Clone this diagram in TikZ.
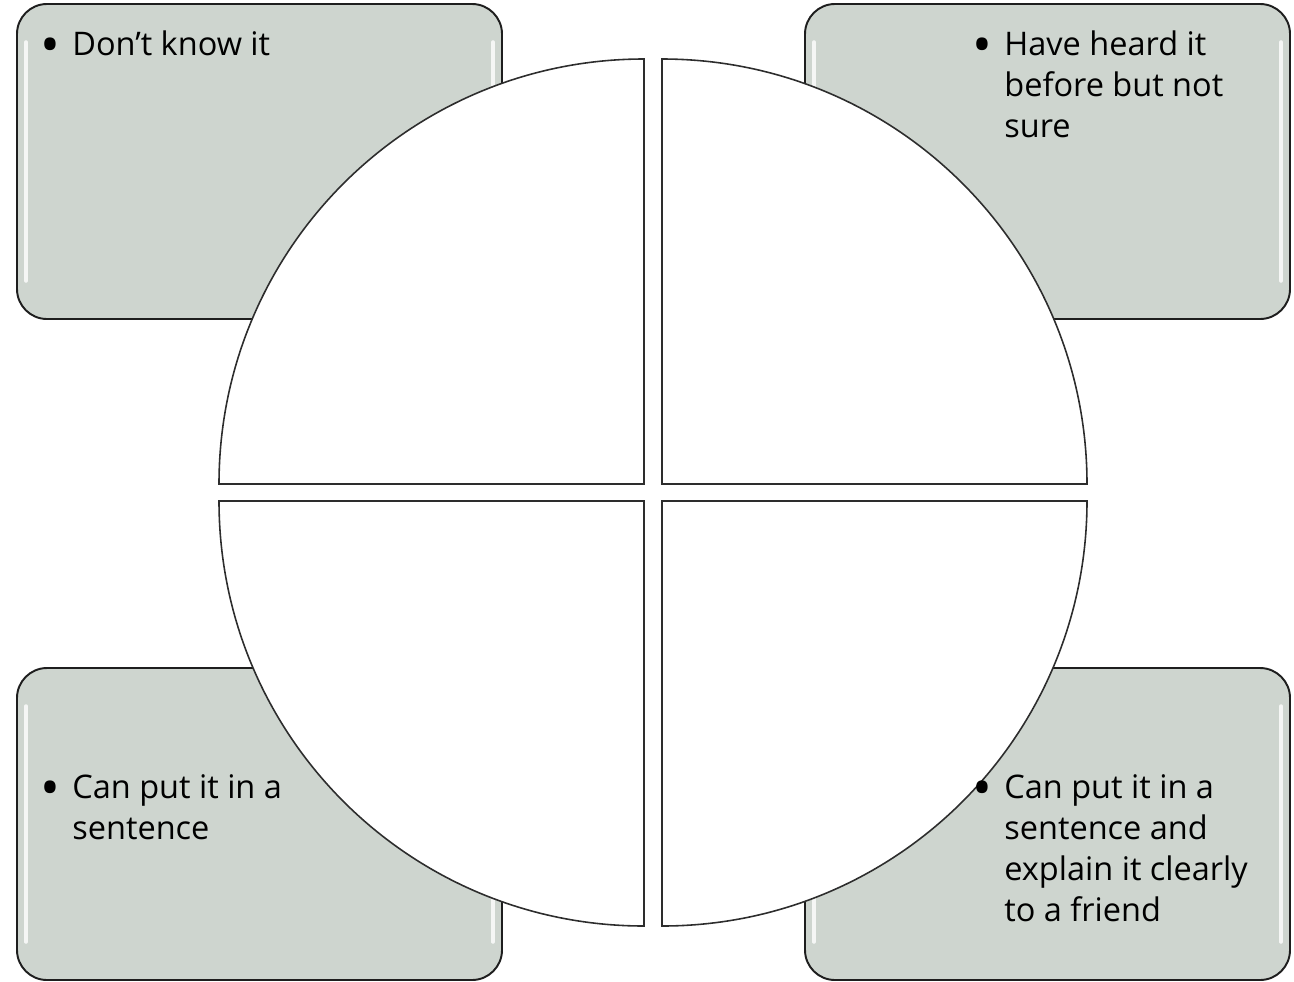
\documentclass[tikz,border=0pt]{standalone}
\usepackage{fontspec}
\setmainfont{Open Sans}
\usetikzlibrary{positioning}
\definecolor{PanelGrey}{RGB}{206,213,207}
\definecolor{EdgeDark}{RGB}{30,30,30}
\definecolor{QuadLine}{RGB}{45,45,45}
\tikzset{
  panel/.style={draw=EdgeDark,line width=1.1pt,fill=PanelGrey,rounded corners=0.6cm},
  shine/.style={draw=white,line width=2pt,line cap=round,opacity=.8},
  quad/.style={draw=QuadLine,line width=0.9pt,fill=white},
  item/.style={anchor=base west,align=left,inner sep=0pt,text=black,font=\fontsize{18.5}{23.3}\selectfont},
}
\newcommand{\bul}{\llap{\raisebox{-0.16cm}{\fontsize{30}{30}\selectfont\textbullet}\hspace{0.25cm}}}

\begin{document}
\begin{tikzpicture}[x=0.02cm,y=-0.02cm]
  \useasboundingbox (0,0) rectangle (1294,981);
  % four grey panels behind the circle
  \foreach \xa/\ya/\xb/\yb in {17/4/502/319, 805/4/1290/319, 17/668/502/980, 805/668/1290/980}{
    \draw[panel] (\xa,\ya) rectangle (\xb,\yb);
    \draw[shine] (\xa+9,\ya+38) -- (\xa+9,\yb-38);
    \draw[shine] (\xb-9,\ya+38) -- (\xb-9,\yb-38);
  }
  % quarter discs, split apart
  \draw[quad] (644,484) -- (219,484) arc[start angle=180,end angle=270,radius=425] -- cycle;
  \draw[quad] (662,484) -- (662,59) arc[start angle=270,end angle=360,radius=425] -- cycle;
  \draw[quad] (644,501) -- (644,926) arc[start angle=90,end angle=180,radius=425] -- cycle;
  \draw[quad] (662,501) -- (1087,501) arc[start angle=0,end angle=90,radius=425] -- cycle;
  % labels (anchored on the baseline of the last line)
  \node[item] (dontknow) at (72,55) {\bul Don’t know it};
  \node[item] (heard) at (1004,137) {\bul Have heard it\\before but not\\sure};
  \node[item] (sentence) at (72,839) {\bul Can put it in a\\sentence};
  \node[item] (explain) at (1004,921) {\bul Can put it in a\\sentence and\\explain it clearly\\to a friend};
\end{tikzpicture}
\end{document}
